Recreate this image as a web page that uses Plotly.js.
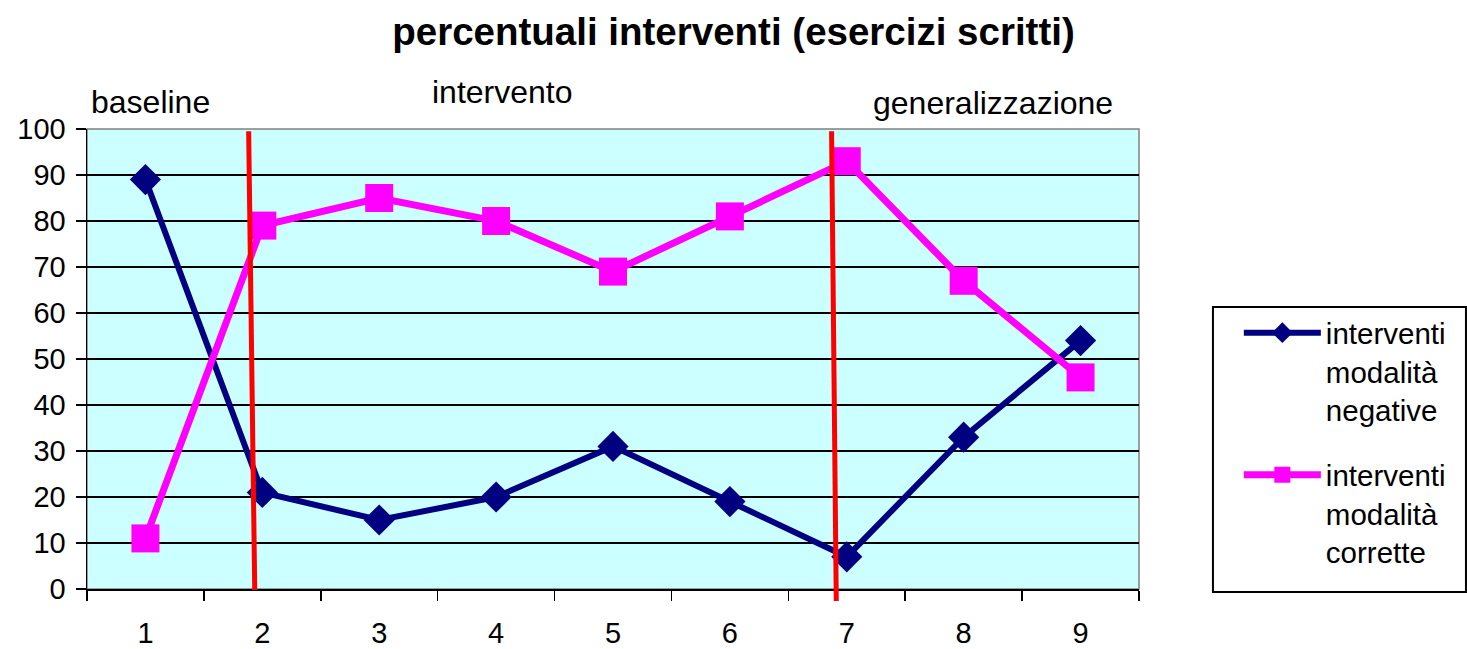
<!DOCTYPE html>
<html>
<head>
<meta charset="utf-8">
<script src="https://cdn.plot.ly/plotly-3.0.1.min.js"></script>
<style>html,body{margin:0;padding:0;background:#fff;}#chart{width:1467px;height:649px;}</style>
</head>
<body>
<div id="chart"></div>
<script>
// Data
const sessions = ['1', '2', '3', '4', '5', '6', '7', '8', '9'];
const negative = [89, 21, 15, 20, 31, 19, 7, 33, 54];
const correct = [11, 79, 85, 80, 69, 81, 93, 67, 46];
const seriesNames = ['interventi<br>modalità<br>negative', 'interventi<br>modalità<br>corrette'];
const phaseLabels = ['baseline', 'intervento', 'generalizzazione'];
// phase change lines (category index coordinates, top and bottom)
const phaseLineTop = [0.883, 5.87];
const phaseLineBottom = [0.935, 5.91];

const FONT = 'Liberation Sans, Arial, sans-serif';

const traces = [
  {
    x: sessions, y: negative, name: seriesNames[0], type: 'scatter', mode: 'lines+markers',
    legendgroup: 'a',
    line: {color: '#000080', width: 6},
    marker: {symbol: 'diamond', size: 24, color: '#000080'},
    cliponaxis: false
  },
  {
    x: sessions, y: correct, name: seriesNames[1], type: 'scatter', mode: 'lines+markers',
    legendgroup: 'b',
    line: {color: '#FF00FF', width: 7},
    marker: {symbol: 'square', size: 28, color: '#FF00FF'},
    cliponaxis: false
  }
];

const shapes = [
  {type: 'rect', xref: 'paper', yref: 'paper', x0: 0, x1: 1, y0: 0, y1: 1,
   line: {color: '#808080', width: 1.5}, layer: 'below'},
  // legend frame
  {type: 'rect', xref: 'paper', yref: 'paper', x0: 1.0703, x1: 1.3108, y0: -0.0065, y1: 0.613,
   line: {color: '#000', width: 2}, fillcolor: 'rgba(0,0,0,0)', layer: 'above'}
];
phaseLineTop.forEach((t, i) => {
  shapes.push({type: 'line', xref: 'x', yref: 'paper', x0: t, x1: phaseLineBottom[i],
    y0: 0.995, y1: i === 0 ? -0.002 : -0.026, line: {color: '#FF0000', width: 5}, layer: 'above'});
});

const annotations = [
  {text: phaseLabels[0], x: 0.0606, y: 1.059},
  {text: phaseLabels[1], x: 0.395, y: 1.081},
  {text: phaseLabels[2], x: 0.861, y: 1.057}
].map(a => Object.assign({xref: 'paper', yref: 'paper', showarrow: false,
  xanchor: 'center', yanchor: 'middle', font: {family: FONT, size: 32, color: '#000'}}, a));

const layout = {
  width: 1467, height: 649,
  margin: {l: 87, r: 328, t: 129, b: 60},
  paper_bgcolor: '#ffffff',
  plot_bgcolor: '#CCFFFF',
  title: {text: '<b>percentuali interventi (esercizi scritti)</b>', x: 0.5, xref: 'container',
    y: 1 - 32/649, yref: 'container', yanchor: 'middle', xanchor: 'center',
    font: {family: FONT, size: 38.5, color: '#000'}},
  xaxis: {
    type: 'category', tickson: 'boundaries', ticks: 'outside', ticklen: 10, tickwidth: 1.5,
    tickcolor: '#000', showline: true, linecolor: '#000', linewidth: 1.5, showgrid: false,
    ticklabelstandoff: 18,
    range: [-0.5, 8.5], tickfont: {family: FONT, size: 29, color: '#000'}, fixedrange: true
  },
  yaxis: {
    range: [0, 100], dtick: 10, tick0: 0, ticks: 'outside', ticklen: 10, tickwidth: 1.5,
    tickcolor: '#000', showline: true, linecolor: '#000', linewidth: 1.5,
    showgrid: true, gridcolor: '#000', gridwidth: 1.3, zeroline: false,
    ticklabelstandoff: 4,
    tickfont: {family: FONT, size: 29, color: '#000'}, fixedrange: true
  },
  showlegend: true,
  legend: {
    x: 1.0949, xanchor: 'left', y: 0.613, yanchor: 'top',
    bgcolor: 'rgba(0,0,0,0)', borderwidth: 0,
    font: {family: FONT, size: 29.5, color: '#000'},
    itemwidth: 77, valign: 'top', traceorder: 'grouped', tracegroupgap: 24
  },
  shapes: shapes,
  annotations: annotations
};

Plotly.newPlot('chart', traces, layout, {displayModeBar: false, staticPlot: true});
</script>
</body>
</html>
